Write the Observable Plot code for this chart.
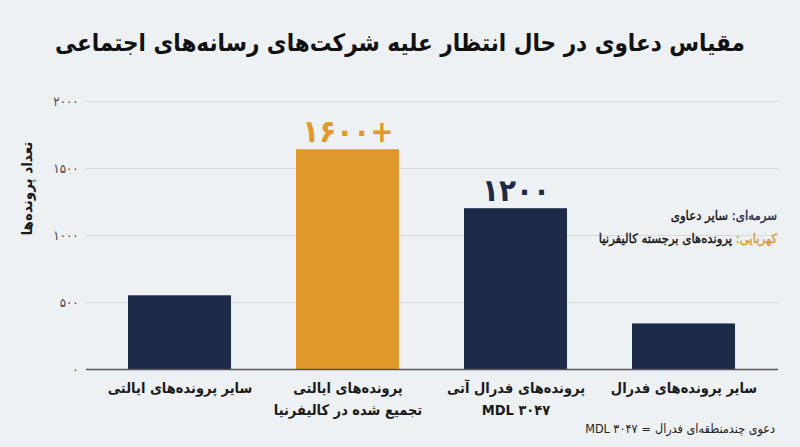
<!DOCTYPE html>
<html>
<head>
<meta charset="utf-8">
<script src="https://cdn.jsdelivr.net/npm/d3@7"></script>
<script src="https://cdn.jsdelivr.net/npm/@observablehq/plot@0.6"></script>
<style>
  html, body { margin: 0; padding: 0; background: #EEF1F4; }
  #wrap { position: relative; width: 800px; height: 447px; overflow: hidden; background: #EEF1F4; font-family: "DejaVu Sans Condensed", "DejaVu Sans", sans-serif; }
  #title { height: 80px; line-height: 86px; text-align: center; font-size: 24px; font-weight: bold; color: #111; direction: rtl; white-space: nowrap; }
  #legend { position: absolute; right: 23px; top: 204px; direction: rtl; text-align: right; font-size: 13px; color: #111; line-height: 23px; -webkit-text-stroke: 0.35px currentColor; white-space: nowrap; }
  #note { position: absolute; right: 25px; top: 421px; display: flex; flex-direction: row; gap: 4px; direction: ltr; font-size: 12.5px; color: #222; white-space: nowrap; }
  #note span { display: inline-block; }
  #chart svg { display: block; }
</style>
</head>
<body>
<div id="wrap">
  <div id="title">مقیاس دعاوی در حال انتظار علیه شرکت&zwnj;های رسانه&zwnj;های اجتماعی</div>
  <div id="chart"></div>
  <div id="legend">
    <div><span style="color:#1C2A48">سرمه&zwnj;ای:</span> سایر دعاوی</div>
    <div><span style="color:#E0982A">کهربایی:</span> پرونده&zwnj;های برجسته کالیفرنیا</div>
  </div>
  <div id="note"><span>MDL ۳۰۴۷</span><span>=</span><span dir="rtl">دعوی چندمنطقه&zwnj;ای فدرال</span></div>
</div>
<script>
const categories = [
  "سایر پرونده\u200cهای ایالتی",
  "پرونده\u200cهای ایالتی\nتجمیع شده در کالیفرنیا",
  "پرونده\u200cهای فدرال آتی\nMDL ۳۰۴۷",
  "سایر پرونده\u200cهای فدرال"
];
const values = [550, 1640, 1200, 340];
const groups = ["navy", "amber", "navy", "navy"];
const valueLabels = ["", "۱۶۰۰+", "۱۲۰۰", ""];
const yTicks = [0, 500, 1000, 1500, 2000];
const yLabel = "تعداد پرونده\u200cها";

const navy = "#1C2A48";
const amber = "#E0982A";

const faDigits = "۰۱۲۳۴۵۶۷۸۹";
const toFa = n => String(n).replace(/\d/g, d => faDigits[+d]);

const data = categories.map((c, i) => ({cat: c, value: values[i], group: groups[i], label: valueLabels[i]}));

const font = "DejaVu Sans Condensed, DejaVu Sans, sans-serif";

const chart = Plot.plot({
  width: 800,
  height: 340,
  marginTop: 21,
  marginBottom: 51,
  marginLeft: 86,
  marginRight: 22,
  style: {background: "transparent", fontFamily: font, color: "#1a1a1a"},
  x: {domain: categories, paddingInner: 0.385, paddingOuter: 0.24, label: null},
  y: {domain: [0, 2000], label: null},
  color: {domain: ["navy", "amber"], range: [navy, amber]},
  marks: [
    Plot.ruleY(yTicks.filter(d => d > 0), {stroke: "#D6DADF", strokeWidth: 1}),
    Plot.barY(data, {x: "cat", y: "value", fill: "group"}),
    Plot.ruleY([0], {stroke: "#555", strokeWidth: 1.3}),
    Plot.axisY({ticks: yTicks, tickFormat: toFa, tickSize: 0, tickPadding: 8, fontSize: 13, fill: "#444", label: null}),
    Plot.axisX({tickSize: 0, tickPadding: 8, fontSize: 14.5, fontWeight: "bold", fill: "#1a1a1a", lineHeight: 1.5, label: null}),
    Plot.text(data.filter(d => d.label), {x: "cat", y: "value", text: "label", fill: "group", lineAnchor: "bottom", dy: -8, fontSize: 31, fontWeight: "bold"}),
    Plot.text([yLabel], {frameAnchor: "left", text: d => d, rotate: -90, dx: -59, fontSize: 15, fontWeight: "bold", fill: "#1a1a1a"})
  ]
});
document.getElementById("chart").appendChild(chart);
</script>
</body>
</html>
